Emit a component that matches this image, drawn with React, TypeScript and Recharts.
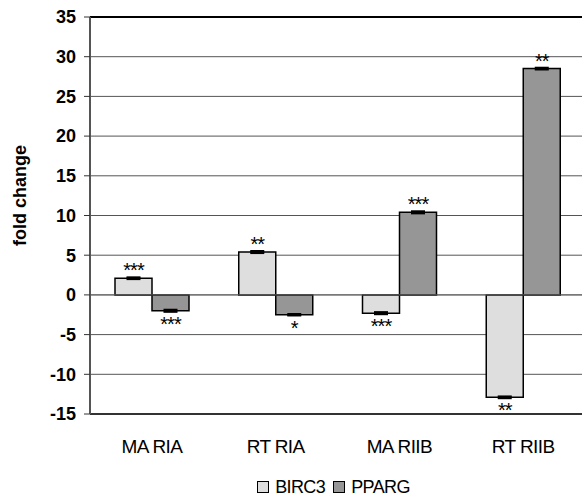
import React from "react";
import {
  BarChart,
  Bar,
  XAxis,
  YAxis,
  CartesianGrid,
  ErrorBar,
  LabelList,
  ReferenceLine,
} from "recharts";

const CATEGORIES = ["MA RIA", "RT RIA", "MA RIIB", "RT RIIB"];
const BIRC3 = [2.1, 5.4, -2.3, -12.9];
const PPARG = [-2.0, -2.5, 10.4, 28.5];
const BIRC3_ERR = [0.08, 0.1, 0.1, 0.08];
const PPARG_ERR = [0.1, 0.06, 0.1, 0.08];
const BIRC3_SIG = ["***", "**", "***", "**"];
const PPARG_SIG = ["***", "*", "***", "**"];
const Y_TICKS = [-15, -10, -5, 0, 5, 10, 15, 20, 25, 30, 35];
const SERIES = [
  { key: "birc3", name: "BIRC3", fill: "#dedede" },
  { key: "pparg", name: "PPARG", fill: "#969696" },
];

const data = CATEGORIES.map((name, i) => ({
  name,
  birc3: BIRC3[i],
  pparg: PPARG[i],
  birc3Err: BIRC3_ERR[i],
  ppargErr: PPARG_ERR[i],
  birc3Sig: BIRC3_SIG[i],
  ppargSig: PPARG_SIG[i],
}));

const FONT = "'Liberation Sans', Arial, sans-serif";

function makeSigLabel(key: "birc3" | "pparg") {
  return (props: any) => {
    const { x, y, width, height, value, index } = props;
    const v = data[index][key];
    const top = Math.min(y, y + height);
    const bottom = Math.max(y, y + height);
    const cx = x + width / 2;
    return (
      <text
        x={cx}
        y={v >= 0 ? top - 1 : bottom + 20}
        textAnchor="middle"
        fontFamily={FONT}
        fontSize={20}
        letterSpacing={-1}
        fill="#000"
      >
        {value}
      </text>
    );
  };
}

function ChartLegend() {
  return (
    <div
      style={{
        position: "absolute",
        left: 90,
        width: 495,
        top: 477,
        display: "flex",
        justifyContent: "center",
        alignItems: "center",
        fontFamily: FONT,
        fontSize: 18,
        lineHeight: "20px",
        letterSpacing: -0.6,
        color: "#000",
      }}
    >
      {SERIES.map((s) => (
        <span
          key={s.key}
          style={{ display: "flex", alignItems: "center", marginRight: 8 }}
        >
          <span
            style={{
              display: "inline-block",
              width: 10,
              height: 10,
              background: s.fill,
              border: "1px solid #000",
              marginRight: 6,
            }}
          />
          {s.name}
        </span>
      ))}
    </div>
  );
}

export default function App() {
  return (
    <div
      style={{
        position: "absolute",
        left: 0,
        top: 0,
        width: 582,
        height: 504,
        overflow: "hidden",
        background: "#fff",
      }}
    >
      <BarChart
        width={590}
        height={504}
        data={data}
        margin={{ top: 17, right: 5, bottom: 33, left: 0 }}
        barCategoryGap={25}
        barGap={0}
      >
        <CartesianGrid vertical={false} stroke="#555" strokeWidth={1} />
        <XAxis
          dataKey="name"
          height={57}
          tickLine={false}
          axisLine={{ stroke: "#333", strokeWidth: 2 }}
          tickMargin={20}
          tick={{
            fontFamily: FONT,
            fontSize: 19,
            fill: "#000",
            letterSpacing: -0.6,
          }}
        />
        <YAxis
          width={90}
          domain={[-15, 35]}
          ticks={Y_TICKS}
          interval={0}
          tickSize={6}
          tickMargin={8}
          tickLine={{ stroke: "#333" }}
          axisLine={{ stroke: "#555", strokeWidth: 2 }}
          tick={{
            fontFamily: FONT,
            fontSize: 18,
            fontWeight: "bold",
            fill: "#000",
          }}
          label={{
            value: "fold change",
            angle: -90,
            position: "insideLeft",
            dx: 15,
            dy: -20,
            style: {
              fontFamily: FONT,
              fontSize: 18,
              fontWeight: "bold",
              fill: "#000",
              textAnchor: "middle",
            },
          }}
        />
        <ReferenceLine y={35} stroke="#000" strokeWidth={2} />
        <ReferenceLine y={0} stroke="#666" strokeWidth={1} />
        <Bar
          dataKey="birc3"
          name="BIRC3"
          fill="#dedede"
          stroke="#000"
          strokeWidth={1.5}
          isAnimationActive={false}
        >
          <ErrorBar dataKey="birc3Err" width={7} stroke="#000" strokeWidth={2.5} />
          <LabelList dataKey="birc3Sig" content={makeSigLabel("birc3")} />
        </Bar>
        <Bar
          dataKey="pparg"
          name="PPARG"
          fill="#969696"
          stroke="#000"
          strokeWidth={1.5}
          isAnimationActive={false}
        >
          <ErrorBar dataKey="ppargErr" width={7} stroke="#000" strokeWidth={2.5} />
          <LabelList dataKey="ppargSig" content={makeSigLabel("pparg")} />
        </Bar>
      </BarChart>
      <ChartLegend />
    </div>
  );
}
